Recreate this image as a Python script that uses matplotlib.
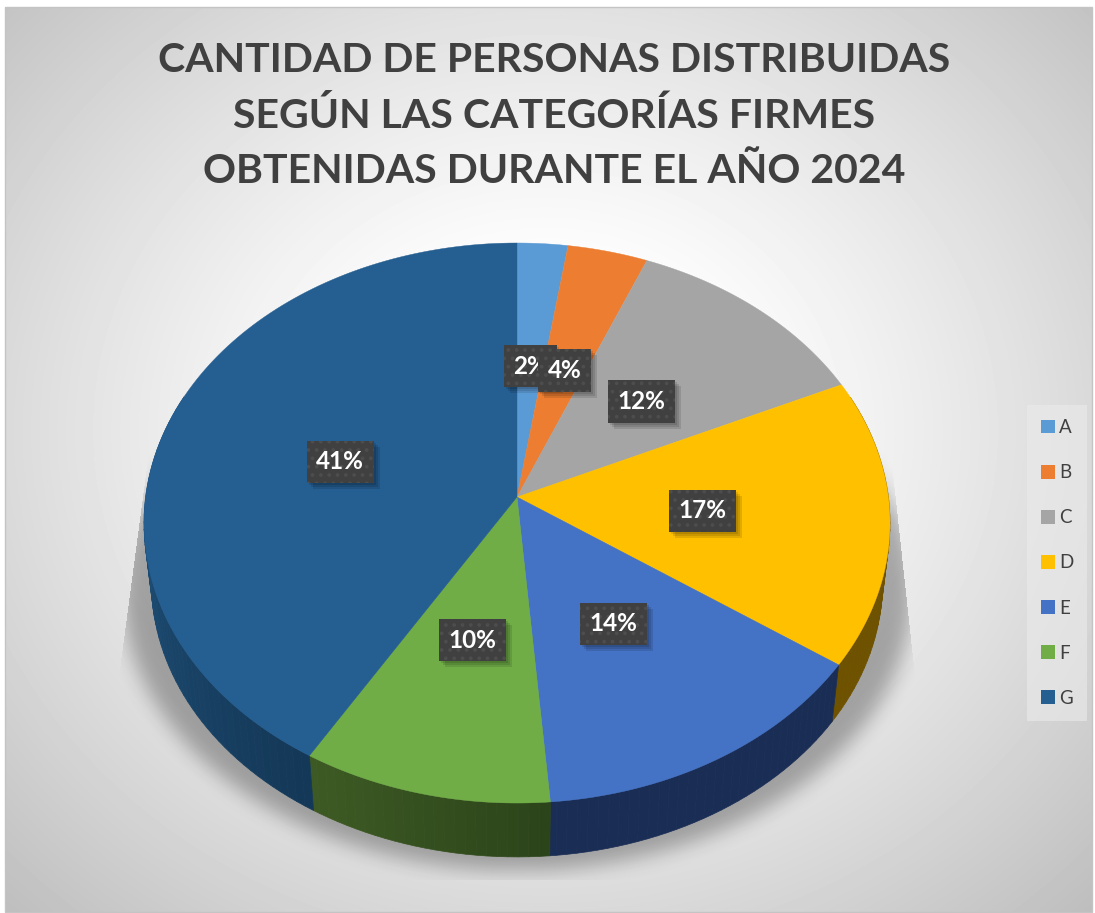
import numpy as np
import matplotlib
matplotlib.use("Agg")
import matplotlib.pyplot as plt
from matplotlib.patches import Polygon, Patch, Rectangle

plt.rcParams["font.family"] = ["Lato", "DejaVu Sans"]
plt.rcParams["hatch.linewidth"] = 1.5

titulo = "CANTIDAD DE PERSONAS DISTRIBUIDAS\nSEGÚN LAS CATEGORÍAS FIRMES\nOBTENIDAS DURANTE EL AÑO 2024"
categorias = ["A", "B", "C", "D", "E", "F", "G"]
valores = [2.4, 3.8, 11.9, 16.6, 14.0, 9.9, 41.4]
colores = ["#5b9bd5", "#ed7d31", "#a5a5a5", "#ffc000", "#4472c4", "#70ad47", "#255e91"]
lado_ini = ["#2e4e6b", "#77401a", "#535353", "#6e5200", "#1a2d55", "#2c441a", "#143857"]
lado_fin = ["#2e4e6b", "#77401a", "#535353", "#6e5200", "#1a2d55", "#4a6b2b", "#1e4f78"]


# Proyección en perspectiva: ángulo en grados desde arriba, en sentido horario
def proyectar(t, r=1.0, abajo=False):
    t = np.radians(t)
    u = r * np.sin(t)
    v = -r * np.cos(t)
    d = 1 - 0.0929 * v
    x = 371.4 * u / d
    y = 277.6 * v / d
    if abajo:
        return 517 + 0.98 * x, 497 + 0.98 * y + 60
    return 517 + x, 497 + y


# Desenfoque simple con numpy (caja aplicada tres veces)
def desenfocar(m, n):
    k = np.ones(n) / n
    for _ in range(3):
        m = np.apply_along_axis(lambda f: np.convolve(f, k, mode="same"), 0, m)
        m = np.apply_along_axis(lambda f: np.convolve(f, k, mode="same"), 1, m)
    return m


fig = plt.figure(figsize=(10.95, 9.13), dpi=100, facecolor="white")
ax = fig.add_axes([0, 0, 1, 1])

# Fondo con degradado radial
yy, xx = np.mgrid[0:913, 0:1095]
dist = np.hypot((xx - 545) / 640, (yy - 430) / 560)
gris = np.clip(1.0 - 0.27 * np.clip(dist - 0.25, 0, None) ** 1.2, 0, 1)
ax.imshow(gris[7:912, 5:1092], cmap="gray", vmin=0, vmax=1, extent=(5, 1092, 912, 7),
          aspect="auto", zorder=0, interpolation="bilinear")
ax.add_patch(Rectangle((5, 7), 1087, 905, fill=False, ec="#c4c4c4", lw=1, zorder=1))

# Sombra del gráfico
mascara = (((xx - 517) / 395.0) ** 2 + ((yy - 590) / 280.0) ** 2 < 1).astype(float)
sombra = desenfocar(mascara, 19) * 0.3
izq = 150 - (yy - 440) * 32 / 240
der = 889 + (yy - 440) * 26 / 240
sombra *= (xx > izq) & (xx < der) & (yy < 880)
sombra *= np.clip((yy - 400) / 120, 0, 1)
rgba = np.zeros((913, 1095, 4))
rgba[..., 3] = sombra
ax.imshow(rgba, extent=(0, 1095, 913, 0), aspect="auto", zorder=2)

ax.set_xlim(0, 1095)
ax.set_ylim(913, 0)
ax.axis("off")

# Cortes acumulados
acum = np.concatenate([[0], np.cumsum(valores)]) * 360 / sum(valores)

# Lados del pastel, con un degradado por tiras
for i in range(len(valores)):
    ts = np.arange(acum[i], acum[i + 1] + 1.5, 1.5)
    ts[-1] = acum[i + 1]
    c0 = np.array(matplotlib.colors.to_rgb(lado_ini[i]))
    c1 = np.array(matplotlib.colors.to_rgb(lado_fin[i]))
    for j in range(len(ts) - 1):
        if np.cos(np.radians(ts[j])) > 0.35 and np.cos(np.radians(ts[j + 1])) > 0.35:
            continue
        xa, ya = proyectar(ts[j])
        xb, yb = proyectar(ts[j + 1])
        xc, yc = proyectar(ts[j + 1], abajo=True)
        xd, yd = proyectar(ts[j], abajo=True)
        f = min(1.0, j / 40)
        col = c0 + (c1 - c0) * f
        ax.add_patch(Polygon([(xa, ya), (xb, yb), (xc, yc), (xd, yd)], fc=col, ec=col, lw=0.5, zorder=3))

# Cara superior
for i in range(len(valores)):
    ts = np.linspace(acum[i], acum[i + 1], 120)
    xs, ys = proyectar(ts)
    pts = [(517, 497)] + list(zip(xs, ys))
    ax.add_patch(Polygon(pts, fc=colores[i], ec=colores[i], lw=0.3, zorder=4))

# Etiquetas de porcentaje
etiquetas = []
for i in range(len(valores)):
    xl, yl = proyectar((acum[i] + acum[i + 1]) / 2, r=0.5)
    pct = 100 * valores[i] / sum(valores)
    txt = ax.text(xl, yl + 1.5, f"{pct:.0f}%", color="white", fontsize=17.5, fontweight="bold",
                  ha="center", va="center", zorder=10 + i,
                  bbox=dict(boxstyle="square,pad=0.4", fc="#404040", ec="#4d4d4d", lw=0, hatch=".."))
    etiquetas.append(txt)

# Sombra difusa de cada etiqueta, por capas, con el tamaño real de su caja
fig.canvas.draw()
for i, txt in enumerate(etiquetas):
    caja = txt.get_bbox_patch().get_window_extent()
    for off in (2, 4, 6):
        ax.add_patch(Rectangle((caja.x0 + off, 913 - caja.y1 + off), caja.width, caja.height,
                               fc=(0, 0, 0, 0.11), ec="none", zorder=9.5 + i))

ax.text(554, 116, titulo, color="#404040", fontsize=29.5, fontweight="bold", ha="center", va="center",
        linespacing=1.6, zorder=5)

handles = [Patch(fc=c, ec="none", label=n) for n, c in zip(categorias, colores)]
leg = ax.legend(handles=handles, loc="upper left", bbox_to_anchor=(1027 / 1095, 1 - 405 / 913),
                borderaxespad=0, fontsize=13.5, frameon=True, facecolor="#ebebeb", edgecolor="none",
                framealpha=0.6, fancybox=False, handlelength=0.75, handleheight=0.75,
                handletextpad=0.2, labelspacing=1.5, borderpad=0.75, labelcolor="#404040")
leg.set_zorder(6)

fig.savefig("out.png", dpi=100)
